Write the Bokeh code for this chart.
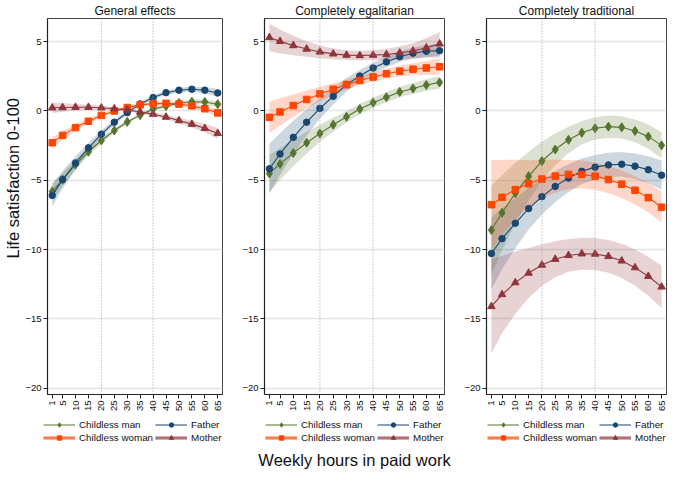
import numpy as np
from bokeh.plotting import figure
from bokeh.models import Range1d, Legend, LegendItem, Span, Title, FixedTicker, ColumnDataSource
from bokeh.layouts import row, column
from bokeh.embed import file_html
from bokeh.resources import INLINE

FONT = "Liberation Sans"

hours = [1, 5, 10, 15, 20, 25, 30, 35, 40, 45, 50, 55, 60, 65]
hour_ticks = [1, 5, 10, 15, 20, 25, 30, 35, 40, 45, 50, 55, 60, 65]
y_ticks = [-20, -15, -10, -5, 0, 5]
ref_hours = [20, 40]

panel_titles = ["General effects", "Completely egalitarian", "Completely traditional"]
groups = ["Childless man", "Father", "Childless woman", "Mother"]

# General effects
gen_man = [-5.80, -4.95, -3.87, -2.94, -2.13, -1.41, -0.79, -0.30, 0.14, 0.35, 0.58, 0.67, 0.65, 0.49]
gen_father = [-6.09, -4.95, -3.75, -2.66, -1.67, -0.81, -0.12, 0.51, 0.97, 1.32, 1.50, 1.57, 1.50, 1.30]
gen_woman = [-2.29, -1.76, -1.20, -0.74, -0.32, 0.00, 0.25, 0.44, 0.53, 0.55, 0.50, 0.37, 0.16, -0.14]
gen_mother = [0.23, 0.25, 0.27, 0.27, 0.23, 0.16, 0.07, -0.07, -0.23, -0.44, -0.69, -0.95, -1.25, -1.62]
gen_man_ci = [0.60, 0.48, 0.37, 0.28, 0.21, 0.16, 0.13, 0.12, 0.12, 0.12, 0.13, 0.15, 0.18, 0.22]
gen_father_ci = [0.80, 0.64, 0.48, 0.36, 0.26, 0.20, 0.16, 0.15, 0.15, 0.15, 0.16, 0.19, 0.23, 0.29]
gen_woman_ci = [0.39, 0.32, 0.25, 0.19, 0.15, 0.12, 0.11, 0.11, 0.11, 0.12, 0.14, 0.17, 0.21, 0.26]
gen_mother_ci = [0.37, 0.30, 0.23, 0.18, 0.14, 0.12, 0.11, 0.11, 0.13, 0.16, 0.20, 0.25, 0.31, 0.39]

# Completely egalitarian
ega_man = [-4.51, -3.82, -3.03, -2.29, -1.62, -0.99, -0.42, 0.14, 0.60, 0.99, 1.37, 1.62, 1.87, 2.06]
ega_father = [-4.17, -3.10, -1.90, -0.81, 0.19, 1.06, 1.90, 2.52, 3.10, 3.54, 3.91, 4.17, 4.31, 4.35]
ega_woman = [-0.46, -0.07, 0.39, 0.83, 1.23, 1.57, 1.90, 2.20, 2.45, 2.69, 2.87, 3.01, 3.10, 3.19]
ega_mother = [5.30, 5.02, 4.72, 4.47, 4.26, 4.12, 4.03, 4.00, 4.03, 4.07, 4.19, 4.33, 4.56, 4.84]
ega_man_ci = [1.35, 1.15, 0.95, 0.78, 0.62, 0.50, 0.42, 0.38, 0.36, 0.36, 0.37, 0.39, 0.42, 0.46]
ega_father_ci = [1.80, 1.50, 1.20, 0.95, 0.75, 0.60, 0.50, 0.44, 0.40, 0.38, 0.38, 0.40, 0.44, 0.50]
ega_woman_ci = [1.15, 0.98, 0.80, 0.64, 0.52, 0.42, 0.36, 0.33, 0.33, 0.35, 0.39, 0.44, 0.50, 0.58]
ega_mother_ci = [1.00, 0.85, 0.70, 0.56, 0.46, 0.39, 0.35, 0.34, 0.36, 0.40, 0.47, 0.56, 0.68, 0.85]

# Completely traditional
tra_man = [-8.59, -7.34, -5.93, -4.70, -3.61, -2.78, -2.08, -1.57, -1.25, -1.13, -1.18, -1.44, -1.85, -2.48]
tra_father = [-10.28, -9.21, -8.10, -7.04, -6.18, -5.44, -4.84, -4.35, -4.05, -3.89, -3.84, -3.98, -4.24, -4.63]
tra_woman = [-6.76, -6.23, -5.67, -5.25, -4.91, -4.70, -4.58, -4.58, -4.70, -4.95, -5.28, -5.72, -6.25, -6.94]
tra_mother = [-14.10, -13.24, -12.38, -11.69, -11.11, -10.69, -10.42, -10.30, -10.32, -10.49, -10.81, -11.30, -11.92, -12.69]
tra_man_ci = [3.20, 2.70, 2.20, 1.75, 1.40, 1.15, 0.95, 0.85, 0.80, 0.80, 0.80, 0.82, 0.88, 0.95]
tra_father_ci = [2.60, 2.20, 1.80, 1.50, 1.28, 1.12, 1.00, 0.92, 0.88, 0.87, 0.88, 0.92, 0.98, 1.05]
tra_woman_ci = [3.25, 2.70, 2.15, 1.70, 1.40, 1.20, 1.05, 1.00, 0.98, 0.98, 1.00, 1.02, 1.05, 1.10]
tra_mother_ci = [3.40, 2.80, 2.25, 1.80, 1.50, 1.30, 1.18, 1.15, 1.15, 1.18, 1.23, 1.30, 1.40, 1.52]

colors = ["#55752f", "#1a476f", "#ff4500", "#90353b"]
markers = ["diamond", "circle", "square", "triangle"]
msizes = [9, 6.5, 6.5, 7.5]

panels = [
    ([gen_man, gen_father, gen_woman, gen_mother], [gen_man_ci, gen_father_ci, gen_woman_ci, gen_mother_ci]),
    ([ega_man, ega_father, ega_woman, ega_mother], [ega_man_ci, ega_father_ci, ega_woman_ci, ega_mother_ci]),
    ([tra_man, tra_father, tra_woman, tra_mother], [tra_man_ci, tra_father_ci, tra_woman_ci, tra_mother_ci]),
]

LEFTS = [42, 34, 34]
RIGHTS = [8, 8, 3]
FRAME_W = 180
TOP_H = 414
LEG_H = 60


def make_panel(i):
    vals, cis = panels[i]
    left, right = LEFTS[i], RIGHTS[i]
    p = figure(width=left + FRAME_W + right, height=TOP_H,
               x_range=Range1d(-0.84, 66.84), y_range=Range1d(-20.45, 6.67),
               output_backend="svg", toolbar_location=None,
               min_border_left=left, min_border_right=right, min_border_top=2,
               min_border_bottom=2)
    p.background_fill_color = "white"
    p.border_fill_color = "white"
    p.outline_line_color = "#444444"
    p.outline_line_width = 1

    p.title.text = panel_titles[i]
    p.title.align = "center"
    p.title.text_font = FONT
    p.title.text_font_size = "12px"
    p.title.text_font_style = "normal"
    p.title.text_color = "#111111"
    p.title.standoff = 2

    p.xgrid.grid_line_color = None
    p.ygrid.grid_line_color = "#e4e4e4"
    p.ygrid.grid_line_width = 1.4
    p.ygrid.ticker = FixedTicker(ticks=y_ticks)

    for h in ref_hours:
        p.add_layout(Span(location=h, dimension="height", line_color="#9a9a9a",
                          line_dash="1 2", line_width=1))

    p.xaxis.ticker = FixedTicker(ticks=hour_ticks)
    p.yaxis.ticker = FixedTicker(ticks=y_ticks)
    for ax in (p.xaxis, p.yaxis):
        ax.axis_line_color = "#222222"
        ax.axis_line_width = 1.2
        ax.major_tick_line_color = "#222222"
        ax.major_tick_out = 4
        ax.major_tick_in = 0
        ax.minor_tick_line_color = None
        ax.major_label_text_font = FONT
        ax.major_label_text_font_size = "9.5px"
        ax.major_label_text_color = "#111111"
        ax.major_label_standoff = 2
    p.xaxis.major_label_orientation = np.pi / 2
    if i == 0:
        p.add_layout(Title(text="Life satisfaction 0-100", align="left", offset=136,
                           text_font=FONT, text_font_size="16.5px", text_font_style="normal",
                           text_color="#111111", standoff=2), "left")

    for k in range(4):
        v = np.array(vals[k]); c = np.array(cis[k])
        src = ColumnDataSource(dict(x=hours, lo=v - c, hi=v + c))
        p.varea(x="x", y1="lo", y2="hi", source=src, fill_color=colors[k], fill_alpha=0.22)

    for k in range(4):
        src = ColumnDataSource(dict(x=hours, y=vals[k]))
        p.line("x", "y", source=src, line_color=colors[k], line_width=1.1)
        p.scatter("x", "y", source=src, marker=markers[k], size=msizes[k],
                  fill_color=colors[k], line_color=colors[k])
    return p


def make_legend_fig(i):
    vals, _ = panels[i]
    left = LEFTS[i] - 4
    right = max(RIGHTS[i] - 4, 0)
    lf = figure(width=LEFTS[i] + FRAME_W + RIGHTS[i], height=LEG_H,
                x_range=Range1d(-3, -2), y_range=Range1d(-3, -2),
                output_backend="svg", toolbar_location=None,
                min_border_left=left, min_border_right=right, min_border_top=0,
                min_border_bottom=30)
    lf.axis.visible = False
    lf.grid.grid_line_color = None
    lf.outline_line_color = None
    lf.background_fill_color = "white"
    lf.border_fill_color = "white"
    items = []
    for k in range(4):
        src = ColumnDataSource(dict(x=hours, y=vals[k]))
        rs = []
        if k >= 2:
            rs.append(lf.line("x", "y", source=src, line_color=colors[k], line_width=4, line_alpha=0.4))
        rs.append(lf.line("x", "y", source=src, line_color=colors[k], line_width=1.1))
        rs.append(lf.scatter("x", "y", source=src, marker=markers[k], size=msizes[k] - 1,
                             fill_color=colors[k], line_color=colors[k]))
        items.append(LegendItem(label=groups[k], renderers=rs))
    leg = Legend(items=items, orientation="horizontal", nrows=2, location=(5, 1),
                 border_line_color=None, background_fill_alpha=0,
                 label_text_font=FONT, label_text_font_size="9.8px", label_text_color="#111111",
                 glyph_width=32, glyph_height=11, label_height=11, label_standoff=4,
                 spacing=2, padding=2, margin=0)
    lf.add_layout(leg)
    if i == 1:
        lf.add_layout(Title(text="Weekly hours in paid work", align="center", text_font=FONT,
                            text_font_size="16.5px", text_font_style="normal",
                            text_color="#111111", standoff=9), "below")
    return lf


figs = [make_panel(i) for i in range(3)]
legs = [make_legend_fig(i) for i in range(3)]
layout = column(row(*figs), row(*legs))
open("out.html", "w").write(file_html(layout, INLINE))
